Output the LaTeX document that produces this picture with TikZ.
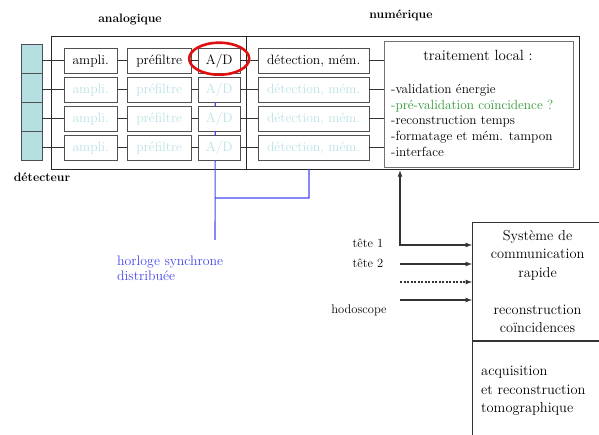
\documentclass[tikz,border=0pt]{standalone}
\usetikzlibrary{arrows,shapes.geometric}

\definecolor{detfill}{HTML}{B5DEE1}
\definecolor{faint}{HTML}{BCE2E6}
\definecolor{clockblue}{HTML}{4646F0}
\definecolor{okgreen}{HTML}{2E9632}
\definecolor{boxgray}{HTML}{505050}
\definecolor{markred}{HTML}{E01010}

\tikzset{
  cell/.style={draw=boxgray, fill=detfill, line width=1pt, minimum width=21pt, minimum height=29pt,
    inner sep=0pt, outer sep=0pt, anchor=center},
  blk/.style={draw=boxgray, fill=white, line width=1.2pt, minimum height=25pt, inner sep=0pt, outer sep=0pt,
    anchor=center, text height=9.5pt, text depth=2.5pt, font=\fontsize{13.6}{16}\selectfont},
  dim/.style={blk, text=faint},
  frame/.style={draw=black!85, line width=1.3pt, inner sep=0pt},
  link/.style={draw=black!80, line width=1.2pt},
  clock/.style={draw=clockblue, line width=1.1pt},
  feed/.style={draw=black!80, line width=1.2pt, -latex},
  hdr/.style={font=\fontsize{12.2}{14}\selectfont\bfseries, inner sep=0pt},
  inlbl/.style={font=\fontsize{12.5}{15}\selectfont, inner sep=0pt},
  sysbox/.style={draw=black!80, line width=1.2pt, inner sep=0pt, font=\fontsize{14.4}{18.5}\selectfont}
}

\begin{document}
\begin{tikzpicture}[x=1pt, y=-1pt]
  \clip (0,0) rectangle (599,435);

  % chaine de lecture, une ligne par voie
  \matrix[anchor=north west, inner sep=0pt, column sep=0pt, row sep=2.8pt, ampersand replacement=\&] (chain) at (63.4,47.4) {
    \node[blk, minimum width=53pt] (amp1) {ampli.}; \&[8.8pt]
    \node[blk, minimum width=64pt] (pre1) {préfiltre}; \&[5.8pt]
    \node[blk, minimum width=42pt] (ad1) {A/D}; \&[16.8pt]
    \node[blk, minimum width=111pt] (mem1) {détection, mém.}; \\
    \node[dim, minimum width=53pt] (amp2) {ampli.}; \&
    \node[dim, minimum width=64pt] (pre2) {préfiltre}; \&
    \node[dim, minimum width=42pt] (ad2) {A/D}; \&
    \node[dim, minimum width=111pt] (mem2) {détection, mém.}; \\
    \node[dim, minimum width=53pt] (amp3) {ampli.}; \&
    \node[dim, minimum width=64pt] (pre3) {préfiltre}; \&
    \node[dim, minimum width=42pt] (ad3) {A/D}; \&
    \node[dim, minimum width=111pt] (mem3) {détection, mém.}; \\
    \node[dim, minimum width=53pt] (amp4) {ampli.}; \&
    \node[dim, minimum width=64pt] (pre4) {préfiltre}; \&
    \node[dim, minimum width=42pt] (ad4) {A/D}; \&
    \node[dim, minimum width=111pt] (mem4) {détection, mém.}; \\
  };

  % cellules du detecteur
  \foreach \r in {1,...,4}
    \node[cell] (cell\r) at ([xshift=-32.5pt, yshift=2pt]amp\r.west) {};

  \node[frame, minimum width=195pt, minimum height=133pt, anchor=north west] (anafr) at (51,36) {};
  \node[frame, minimum width=333pt, minimum height=133pt, anchor=north west] (numfr) at (246,36) {};
  \node[draw=boxgray!80, line width=1.3pt, minimum width=189pt, minimum height=126pt, anchor=north west] (trait) at (384,41) {};

  \node[font=\fontsize{14.8}{17}\selectfont] (trtitle) at (478,55) {traitement local :};
  \node[font=\fontsize{13.3}{15.7}\selectfont, align=left, inner sep=0pt, anchor=north west] (trlist) at (391,84)
    {-validation énergie\\\textcolor{okgreen}{-pré-validation coïncidence ?}\\-reconstruction temps\\-formatage et mém. tampon\\-interface};

  \foreach \r in {1,...,4}
    \draw[link] (cell\r.east |- amp\r) -- (amp\r) (amp\r) -- (pre\r) (pre\r) -- (ad\r) (ad\r) -- (mem\r)
      (mem\r) -- (mem\r -| trait.west);

  \node[ellipse, draw=markred, line width=2.6pt, minimum width=60pt, minimum height=32pt, inner sep=0pt] (admark) at ([yshift=2pt]ad1) {};

  \node[hdr] (analbl) at (130,19) {analogique};
  \node[hdr] (numlbl) at (401,15) {numérique};
  \node[hdr] (detlbl) at (42,177) {détecteur};

  % horloge
  \coordinate (clkjoin) at (215,198);
  \coordinate (clkend) at (215,240);
  \coordinate (clktap) at (309,169);
  \draw[clock] ([xshift=-4pt]ad2.south) -- ([xshift=-4pt]ad3.north)
    ([xshift=-4pt]ad3.south) -- ([xshift=-4pt]ad4.north)
    ([xshift=-4pt]ad4.south) -- (clkend)
    (clkjoin) -| (clktap);
  \node[font=\fontsize{13.8}{15}\selectfont, text=clockblue, align=left, inner sep=0pt, anchor=north west] (clklbl) at (117,256)
    {horloge synchrone\\distribuée};

  % systeme de communication
  \node[sysbox, minimum width=130pt, minimum height=118pt, anchor=north west, align=center] (sys) at (472,222)
    {Système de\\communication\\rapide\\[18.5pt]reconstruction\\coïncidences};
  \node[sysbox, minimum width=130pt, minimum height=120pt, anchor=north west] (acq) at (sys.south west) {};
  \node[font=\fontsize{14.4}{18.5}\selectfont, align=left, inner sep=0pt, anchor=west] (acqtxt) at (481,391)
    {acquisition\\et reconstruction\\tomographique};

  \coordinate (t1) at (400,245);
  \coordinate (t2) at (400,264);
  \coordinate (t3) at (400,282);
  \coordinate (t4) at (400,300);
  \draw[feed, latex-latex] (t1 |- numfr.south) |- (t1 -| sys.west);
  \draw[feed] (t2) -- (t2 -| sys.west);
  \draw[feed, dash pattern=on 2pt off 1.5pt] (t3) -- (t3 -| sys.west);
  \draw[feed] (t4) -- (t4 -| sys.west);
  \node[inlbl] (t1lbl) at (368,243) {tête 1};
  \node[inlbl] (t2lbl) at (368,263) {tête 2};
  \node[inlbl] (t4lbl) at (359,310) {hodoscope};
\end{tikzpicture}
\end{document}
